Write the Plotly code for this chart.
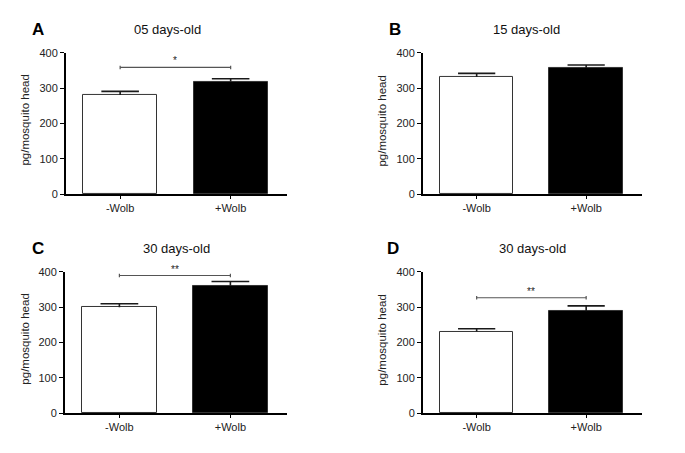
import plotly.graph_objects as go

W, H = 685, 453

# ---- data ----
groups = ["-Wolb", "+Wolb"]
panel_letters = ["A", "B", "C", "D"]
panel_titles = ["05 days-old", "15 days-old", "30 days-old", "30 days-old"]
means_A = [281, 319]
err_A = [10, 8]
means_B = [332, 357]
err_B = [10, 9]
means_C = [300, 361]
err_C = [10, 12]
means_D = [231, 289]
err_D = [8, 15]
sig_levels = [359, None, 390, 327]
sig_labels = ["*", None, "**", "**"]
y_ticks = [0, 100, 200, 300, 400]
y_title = "pg/mosquito head"

means = [means_A, means_B, means_C, means_D]
errs = [err_A, err_B, err_C, err_D]

# ---- layout (pixel boxes in the window: x0, x1, ytop, ybottom) ----
boxes = [(66, 287, 48, 193), (423, 642, 48, 193),
         (65, 287, 273, 418), (423, 642, 273, 418)]
letter_pos = [(38, 24), (395, 24), (38, 249), (393, 249)]
title_pos = [(167, 24), (526, 24), (176, 249), (532, 249)]
ytitle_x = [25, 382, 25, 382]

OFF = 8  # page body margin

def px(x):
    return (x - OFF) / W

def py(y):
    return 1 - (y - OFF) / H

FONT = "Arial, Liberation Sans, sans-serif"
fig = go.Figure()
bar_colors = ["white", "black"]
xpos = [0, 1]
cap = 0.17
layout = {}
annotations = []

for i in range(4):
    ax = "" if i == 0 else str(i + 1)
    xa, ya = "x" + ax, "y" + ax
    x0, x1, yt, yb = boxes[i]
    fig.add_trace(go.Bar(
        x=xpos, y=means[i], width=0.67, xaxis=xa, yaxis=ya,
        marker=dict(color=bar_colors, line=dict(color="#333333", width=1)),
        showlegend=False, hoverinfo="skip"))
    # error bars (upper only)
    for j in range(2):
        top = means[i][j] + errs[i][j]
        fig.add_trace(go.Scatter(
            x=[xpos[j], xpos[j], None, xpos[j] - cap, xpos[j] + cap],
            y=[means[i][j], top, None, top, top],
            mode="lines", line=dict(color="#1a1a1a", width=1.6),
            xaxis=xa, yaxis=ya, showlegend=False, hoverinfo="skip"))
    # significance bracket
    if sig_levels[i] is not None:
        s = sig_levels[i]
        d = 5
        fig.add_trace(go.Scatter(
            x=[0, 1, None, 0, 0, None, 1, 1],
            y=[s, s, None, s - d, s + d, None, s - d, s + d],
            mode="lines", line=dict(color="#555555", width=1.2),
            xaxis=xa, yaxis=ya, showlegend=False, hoverinfo="skip", cliponaxis=False))
        annotations.append(dict(
            x=0.5, y=s, xref=xa, yref=ya, text=sig_labels[i], showarrow=False,
            xanchor="center", yanchor="bottom", yshift=-1,
            font=dict(family=FONT, size=10, color="#222222")))
    layout["xaxis" + ax] = dict(
        domain=[px(x0), px(x1)], anchor=ya, range=[-0.49, 1.51],
        tickvals=xpos, ticktext=groups, ticks="outside", ticklen=3, tickwidth=1,
        tickcolor="black", showline=True, linecolor="black", linewidth=2,
        showgrid=False, zeroline=False, fixedrange=True,
        tickfont=dict(family=FONT, size=11, color="#222222"))
    layout["yaxis" + ax] = dict(
        domain=[py(yb), py(yt)], anchor=xa, range=[0, 400],
        tickvals=y_ticks, ticks="outside", ticklen=4, tickwidth=1,
        tickcolor="black", showline=True, linecolor="black", linewidth=2,
        showgrid=False, zeroline=False,
        tickfont=dict(family=FONT, size=11, color="#222222"))
    annotations.append(dict(
        x=px(letter_pos[i][0]), y=py(letter_pos[i][1]), xref="paper", yref="paper",
        xanchor="center", yanchor="middle",
        text="<b>" + panel_letters[i] + "</b>", showarrow=False,
        font=dict(family=FONT, size=17, color="black")))
    annotations.append(dict(
        x=px(title_pos[i][0]), y=py(title_pos[i][1]), xref="paper", yref="paper",
        xanchor="center", yanchor="middle",
        text=panel_titles[i], showarrow=False,
        font=dict(family=FONT, size=13, color="#111111")))
    annotations.append(dict(
        x=px(ytitle_x[i]), y=py((yt + yb) / 2 - 3), xref="paper", yref="paper",
        xanchor="center", yanchor="middle",
        text=y_title, showarrow=False, textangle=-90,
        font=dict(family=FONT, size=11.5, color="#222222")))

fig.update_layout(
    width=W, height=H, margin=dict(l=0, r=0, t=0, b=0),
    paper_bgcolor="white", plot_bgcolor="white",
    annotations=annotations, bargap=0, **layout)

fig.write_html("out.html")
